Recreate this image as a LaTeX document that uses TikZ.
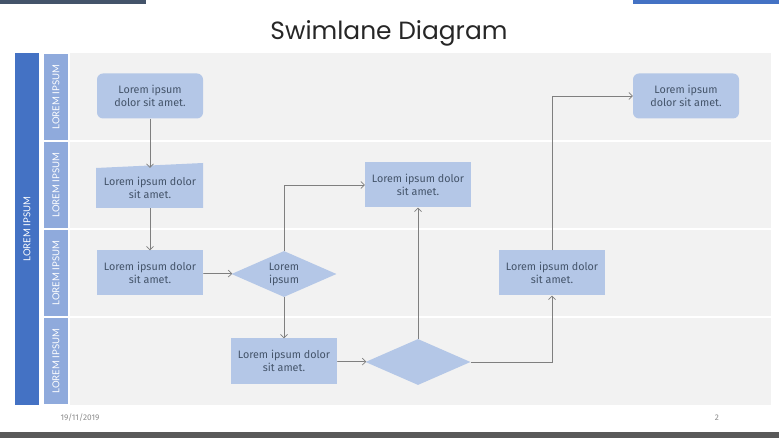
\documentclass[tikz,border=0pt]{standalone}
\usepackage{fontspec}
\setmainfont{Fira Sans}
\newfontfamily\titlefont{Poppins}
\newfontfamily\lanefont{Lato}
\usetikzlibrary{shapes.geometric, arrows.meta}
\definecolor{slate}{HTML}{44546A}
\definecolor{darkblue}{HTML}{4472C4}
\definecolor{laneblue}{HTML}{8FAADC}
\definecolor{boxblue}{HTML}{B4C7E7}
\definecolor{lanegray}{HTML}{F2F2F2}
\definecolor{linegray}{HTML}{7F7F7F}
\tikzset{
  box/.style={fill=boxblue, text=slate, align=center, inner sep=0,
    minimum width=106bp, minimum height=45bp, font=\fontsize{10.8}{13}\selectfont},
  roundbox/.style={box, rounded corners=6bp},
  decision/.style={box, diamond, aspect=2.26, minimum width=105bp, minimum height=46bp},
  lane/.style={fill=laneblue, text=white, rotate=90, minimum width=86bp,
    minimum height=24bp, inner sep=0, font=\lanefont\fontsize{9.6}{10}\selectfont},
  flow/.style={-{Straight Barb[length=3.5bp, width=7bp]}, linegray, line width=0.7bp}
}
\begin{document}
\begin{tikzpicture}[x=1bp, y=-1bp]
    \useasboundingbox (0,0) rectangle (779,438);
    % page frame
    \fill[slate] (0,0) rectangle (146,4);
    \fill[darkblue] (633,0) rectangle (779,4);
    \fill[black!65] (0,432) rectangle (779,438);
    \node(title) at (389,33) [font=\titlefont\fontsize{25}{25}\selectfont, text=black!85]{Swimlane Diagram};
    \node(date) at (80,418) [font=\fontsize{8.3}{9}\selectfont, text=black!45]{19/11/2019};
    \node(page) at (717,418) [font=\fontsize{8.3}{9}\selectfont, text=black!45]{2};
    %
    \fill[lanegray] (70,53) rectangle (771,405);
    \foreach \y in {141,229,317}
        \draw[white, line width=1.2bp] (70,\y) -- (771,\y);
    \draw
    (27,229)node(pool)[lane, fill=darkblue, minimum width=352bp]{LOREM IPSUM}
    (56,97)node(l1)[lane]{LOREM IPSUM}
    (56,185)node(l2)[lane]{LOREM IPSUM}
    (56,273)node(l3)[lane]{LOREM IPSUM}
    (56,361)node(l4)[lane]{LOREM IPSUM};
    %
    \fill[boxblue] (96,168) -- (203,163) -- (203,208) -- (96,208) -- cycle;
    \draw
    (150,96)node(1)[roundbox]{Lorem ipsum\\dolor sit amet.}
    (150,188)node(2)[box, fill=none, minimum height=40bp]{Lorem ipsum dolor\\sit amet.}
    (150,273)node(3)[box]{Lorem ipsum dolor\\sit amet.}
    (284,274)node(4)[decision]{Lorem\\ipsum}
    (418,185)node(5)[box]{Lorem ipsum dolor\\sit amet.}
    (284,361)node(6)[box]{Lorem ipsum dolor\\sit amet.}
    (418,362)node(7)[decision]{}
    (552,273)node(8)[box]{Lorem ipsum dolor\\sit amet.}
    (686,96)node(9)[roundbox]{Lorem ipsum\\dolor sit amet.};
    %
    \draw [flow](1)--(2);
    \draw [flow](2)--(3);
    \draw [flow](3)--(4);
    \draw [flow](4.north)|-(5);
    \draw [flow](4)--(6);
    \draw [flow](6)--(7);
    \draw [flow](7)--(5);
    \draw [flow](7)-|(8);
    \draw [flow](8)|-(9);
\end{tikzpicture}
\end{document}
